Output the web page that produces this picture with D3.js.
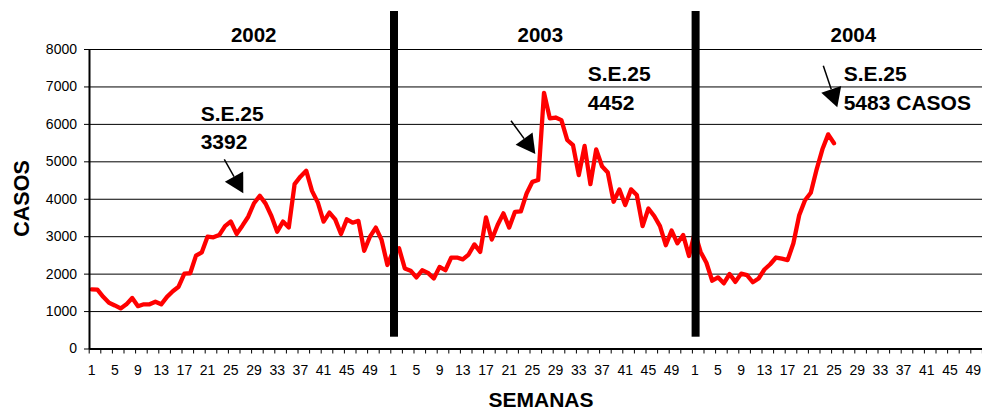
<!DOCTYPE html>
<html>
<head>
<meta charset="utf-8">
<script src="https://cdn.jsdelivr.net/npm/d3@7"></script>
<style>
  body { margin: 0; background: #fff; }
  svg { display: block; }
  text { font-family: "Liberation Sans", Arial, Helvetica, sans-serif; }
</style>
</head>
<body>
<div id="chart"></div>
<script>
const width = 982;
const height = 411;
const plot = {left: 88.7, top: 49, bottom: 348.5, step: 5.8};

// categories
const years = ["2002", "2003", "2004"];
const weeksPerYear = 52;
const weekTickLabels = [1, 5, 9, 13, 17, 21, 25, 29, 33, 37, 41, 45, 49];
const yTicks = [0, 1000, 2000, 3000, 4000, 5000, 6000, 7000, 8000];

// weekly cases
const cases2002 = [1580, 1570, 1380, 1220, 1150, 1070, 1180, 1350, 1130, 1180, 1180, 1250, 1180,
  1380, 1530, 1650, 2000, 2010, 2480, 2570, 2990, 2970, 3030, 3270, 3392, 3060,
  3280, 3520, 3880, 4080, 3870, 3540, 3120, 3390, 3230, 4390, 4590, 4750, 4210,
  3900, 3390, 3630, 3450, 3060, 3450, 3360, 3410, 2610, 2990, 3230, 2900, 2230];
const cases2003 = [2600, 2680, 2140, 2080, 1900, 2090, 2020, 1870, 2180, 2090, 2430, 2430, 2380,
  2510, 2780, 2580, 3500, 2910, 3300, 3610, 3230, 3650, 3660, 4140, 4452, 4500,
  6830, 6150, 6170, 6100, 5570, 5430, 4630, 5410, 4390, 5320, 4870, 4700, 3920,
  4250, 3830, 4250, 4100, 3270, 3740, 3540, 3270, 2760, 3150, 2810, 3030, 2470];
const cases2004 = [3100, 2580, 2290, 1810, 1900, 1740, 1990, 1780, 2000, 1960, 1770, 1870, 2110,
  2250, 2430, 2400, 2360, 2810, 3560, 3960, 4160, 4780, 5320, 5720, 5483];

// annotation texts
const yearLabels = [
  {text: "2002", x: 253.7},
  {text: "2003", x: 540.3},
  {text: "2004", x: 853.3}
];
const notes = [
  {lines: ["S.E.25", "3392"], x: 200.7, y: 120.7, gap: 28.3, arrow: [224.3, 159.3, 243.3, 193.3]},
  {lines: ["S.E.25", "4452"], x: 587.7, y: 81, gap: 29, arrow: [511, 120.7, 535.3, 154]},
  {lines: ["S.E.25", "5483 CASOS"], x: 843.7, y: 81, gap: 29, arrow: [823.3, 65.7, 837.3, 107.3]}
];

const seriesByYear = [cases2002, cases2003, cases2004];
const data = [];
seriesByYear.forEach((vals, yi) => {
  vals.forEach((v, wi) => data.push({idx: yi * weeksPerYear + wi, week: wi + 1, value: v}));
});
const nCats = years.length * weeksPerYear;
const weekOf = i => (i % weeksPerYear) + 1;

const svg = d3.select("#chart").append("svg")
  .attr("width", width)
  .attr("height", height)
  .style("background", "#fff");

/// Scales ///
const xBand = d3.scaleBand()
  .domain(d3.range(nCats))
  .range([plot.left, plot.left + nCats * plot.step])
  .padding(0);
const xLin = d3.scaleLinear()
  .domain([0, nCats])
  .range([plot.left, plot.left + nCats * plot.step]);
const y = d3.scaleLinear()
  .domain([0, 8000])
  .range([plot.bottom, plot.top]);
const xc = i => xBand(i) + xBand.bandwidth() / 2;

/// Grid ///
svg.append("g")
  .attr("transform", `translate(${plot.left},0)`)
  .call(d3.axisLeft(y).tickValues(yTicks.slice(1)).tickSize(-(width - plot.left)).tickFormat(""))
  .call(g => g.select(".domain").remove())
  .call(g => g.selectAll(".tick line").attr("stroke", "#000").attr("stroke-width", 1));

/// Line ///
const line = d3.line()
  .x(d => xc(d.idx))
  .y(d => y(d.value));

svg.append("path")
  .datum(data)
  .attr("fill", "none")
  .attr("stroke", "#ff0000")
  .attr("stroke-width", 4.3)
  .attr("stroke-linejoin", "round")
  .attr("stroke-linecap", "round")
  .attr("d", line);

/// Year separators ///
svg.selectAll(".sep")
  .data(years.slice(1).map((yr, k) => (k + 1) * weeksPerYear))
  .join("rect")
  .attr("class", "sep")
  .attr("x", d => xc(d) - 3.2)
  .attr("width", 8)
  .attr("y", 11)
  .attr("height", 336.7 - 11)
  .attr("fill", "#000");

/// Axes ///
svg.append("g")
  .attr("transform", `translate(0,${plot.bottom})`)
  .call(d3.axisBottom(xLin).tickValues(d3.range(0, nCats + 1, 2)).tickFormat("").tickSize(5).tickSizeOuter(0))
  .call(g => g.select(".domain").attr("stroke", "#000").attr("stroke-width", 2))
  .call(g => g.selectAll(".tick line").attr("stroke", "#000"));

svg.append("g")
  .attr("transform", `translate(0,${plot.bottom})`)
  .call(d3.axisBottom(xBand)
    .tickValues(d3.range(nCats).filter(i => weekTickLabels.includes(weekOf(i))))
    .tickFormat(i => weekOf(i))
    .tickSize(0)
    .tickPadding(16.5))
  .call(g => g.select(".domain").remove())
  .call(g => g.selectAll("text")
    .attr("font-size", "14px")
    .attr("fill", "#000")
    .style("font-family", "'Liberation Sans', Arial, sans-serif"));

svg.append("g")
  .attr("transform", `translate(${plot.left + 0.3},0)`)
  .call(d3.axisLeft(y).tickValues(yTicks).tickFormat(d3.format("d")).tickSize(5).tickPadding(7).tickSizeOuter(0))
  .call(g => g.select(".domain").attr("stroke", "#000").attr("stroke-width", 2))
  .call(g => g.selectAll(".tick line").attr("stroke", "#000"))
  .call(g => g.selectAll("text")
    .attr("font-size", "14px")
    .attr("fill", "#000")
    .style("font-family", "'Liberation Sans', Arial, sans-serif"));

/// Titles ///
svg.append("text")
  .attr("transform", "translate(29,198.5) rotate(-90)")
  .attr("text-anchor", "middle")
  .style("font-size", "21.5px")
  .style("font-weight", "bold")
  .text("CASOS");

svg.append("text")
  .attr("x", 541)
  .attr("y", 406.5)
  .attr("text-anchor", "middle")
  .style("font-size", "21px")
  .style("font-weight", "bold")
  .text("SEMANAS");

svg.selectAll(".year-label")
  .data(yearLabels)
  .join("text")
  .attr("class", "year-label")
  .attr("x", d => d.x)
  .attr("y", 42.3)
  .attr("text-anchor", "middle")
  .style("font-size", "20.5px")
  .style("font-weight", "bold")
  .text(d => d.text);

/// Annotations ///
function arrow(g, [x1, y1, x2, y2]) {
  const dx = x2 - x1, dy = y2 - y1;
  const len = Math.hypot(dx, dy);
  const ux = dx / len, uy = dy / len;
  const headLen = 19, headW = 10.5;
  const bx = x2 - ux * headLen, by = y2 - uy * headLen;
  g.append("line")
    .attr("x1", x1).attr("y1", y1)
    .attr("x2", bx).attr("y2", by)
    .attr("stroke", "#000")
    .attr("stroke-width", 1.5);
  g.append("path")
    .attr("d", `M${x2},${y2}L${bx - uy * headW},${by + ux * headW}L${bx + uy * headW},${by - ux * headW}Z`)
    .attr("fill", "#000");
}

notes.forEach(n => {
  const g = svg.append("g");
  n.lines.forEach((t, k) => {
    g.append("text")
      .attr("x", n.x)
      .attr("y", n.y + k * n.gap)
      .style("font-size", "21px")
      .style("font-weight", "bold")
      .text(t);
  });
  arrow(g, n.arrow);
});
</script>
</body>
</html>
